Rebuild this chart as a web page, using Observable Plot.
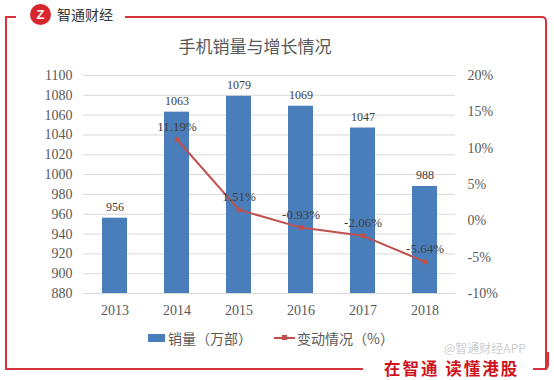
<!DOCTYPE html>
<html><head><meta charset="utf-8">
<script src="https://cdn.jsdelivr.net/npm/d3@7"></script>
<script src="https://cdn.jsdelivr.net/npm/@observablehq/plot@0.6"></script>
<style>
body{margin:0;background:#fff;}
#wrap{position:relative;width:554px;height:380px;overflow:hidden;background:#fff;font-family:"Noto Sans CJK SC",sans-serif;}
.abs{position:absolute;}
#chart{position:absolute;left:0;top:0;}
</style></head>
<body><div id="wrap">
<div class="abs" style="left:5px;top:16px;width:11px;height:2px;background:#d7333d;"></div>
<div class="abs" style="left:5px;top:16px;width:2px;height:354px;background:#d7333d;border-radius:0 0 0 4px;"></div>
<div class="abs" style="left:125px;top:16px;width:420px;height:352px;border-top:2px solid #d7333d;border-right:2px solid #d7333d;border-radius:0 5px 0 0;"></div>
<div class="abs" style="left:5px;top:368px;width:358px;height:2px;background:#d7333d;"></div>
<div class="abs" style="left:533px;top:352px;width:14px;height:16px;border-bottom:2px solid #d7333d;border-right:2px solid #d7333d;border-radius:0 0 5px 0;"></div>
<div class="abs" style="left:30px;top:4px;width:21px;height:21px;border-radius:50%;background:#d7262e;color:#fff;font:bold 13px 'Liberation Sans';text-align:center;line-height:21px;">Z</div>
<div class="abs" style="left:57px;top:5px;font-size:14px;color:#333;line-height:18px;">智通财经</div>
<div class="abs" id="title" style="left:155px;width:200px;top:35px;text-align:center;font-size:17px;color:#595959;line-height:22px;">手机销量与增长情况</div>
<div id="chart"></div>
<div class="abs" style="left:148px;top:334px;width:17px;height:8px;background:#4a7ebb;"></div>
<div class="abs" style="left:168px;top:328px;font-size:14px;color:#595959;line-height:20px;">销量（万部）</div>
<div class="abs" style="left:274px;top:337px;width:21px;height:2px;background:#c0504d;"></div>
<div class="abs" style="left:282px;top:335px;width:5px;height:5px;background:#c0504d;"></div>
<div class="abs" style="left:297px;top:328px;font-size:14px;color:#595959;line-height:20px;">变动情况（%）</div>
<div class="abs" style="left:444px;top:341px;font-size:12px;color:rgba(190,190,190,0.8);line-height:14px;">@智通财经APP</div>
<div class="abs" style="left:384px;top:360px;font-size:16.5px;font-weight:bold;color:#d0121b;line-height:16px;letter-spacing:2px;">在智通 读懂港股</div>
</div>
<script>
const years = ["2013","2014","2015","2016","2017","2018"];
const sales = [956, 1063, 1079, 1069, 1047, 988];
const change = [null, 11.19, 1.51, -0.93, -2.06, -5.64];
const leftTicks = [880, 900, 920, 940, 960, 980, 1000, 1020, 1040, 1060, 1080, 1100];
const rightTicks = [-10, -5, 0, 5, 10, 15, 20];
const changeLabels = ["", "11.19%", "1.51%", "-0.93%", "-2.06%", "-5.64%"];

const yMin = 880, yMax = 1100, pMin = -10, pMax = 20;
const toLeft = p => yMin + (p - pMin) * (yMax - yMin) / (pMax - pMin);
const fromLeft = v => Math.round((v - yMin) * (pMax - pMin) / (yMax - yMin) + pMin);

const data = years.map((y, i) => ({year: y, sales: sales[i], change: change[i], label: changeLabels[i]}));
const lineData = data.filter(d => d.change !== null);

const chart = Plot.plot({
  width: 554, height: 330,
  marginTop: 75, marginBottom: 37, marginLeft: 83, marginRight: 99,
  style: {fontFamily: "'Liberation Serif', serif", fontSize: "14px", color: "#595959", background: "transparent"},
  x: {domain: years, paddingInner: 0.6, paddingOuter: 0.3, label: null},
  y: {domain: [yMin, yMax], label: null},
  marks: [
    Plot.gridY(leftTicks, {stroke: "#d9d9d9", strokeOpacity: 1}),
    Plot.barY(data, {x: "year", y1: yMin, y2: "sales", fill: "#4a7ebb"}),
    Plot.text(data, {x: "year", y: "sales", text: d => String(d.sales), dy: -11, fontSize: 12, fill: "#404040"}),
    Plot.line(lineData, {x: "year", y: d => toLeft(d.change), stroke: "#c0504d", strokeWidth: 2}),
    Plot.dot(lineData, {x: "year", y: d => toLeft(d.change), symbol: "square", r: 2.6, fill: "#c0504d", stroke: "none"}),
    Plot.text(lineData, {x: "year", y: d => toLeft(d.change), text: "label", dy: -13, fontSize: 13, fill: "#404040"}),
    Plot.axisY(leftTicks, {tickSize: 0, tickPadding: 11, label: null, tickFormat: d => String(d)}),
    Plot.axisY(rightTicks.map(toLeft), {anchor: "right", tickSize: 0, tickPadding: 12, label: null, textAnchor: "start", tickFormat: v => fromLeft(v) + "%"}),
    Plot.axisX({tickSize: 0, tickPadding: 12, label: null})
  ]
});
document.getElementById("chart").appendChild(chart);
</script>
</body></html>
